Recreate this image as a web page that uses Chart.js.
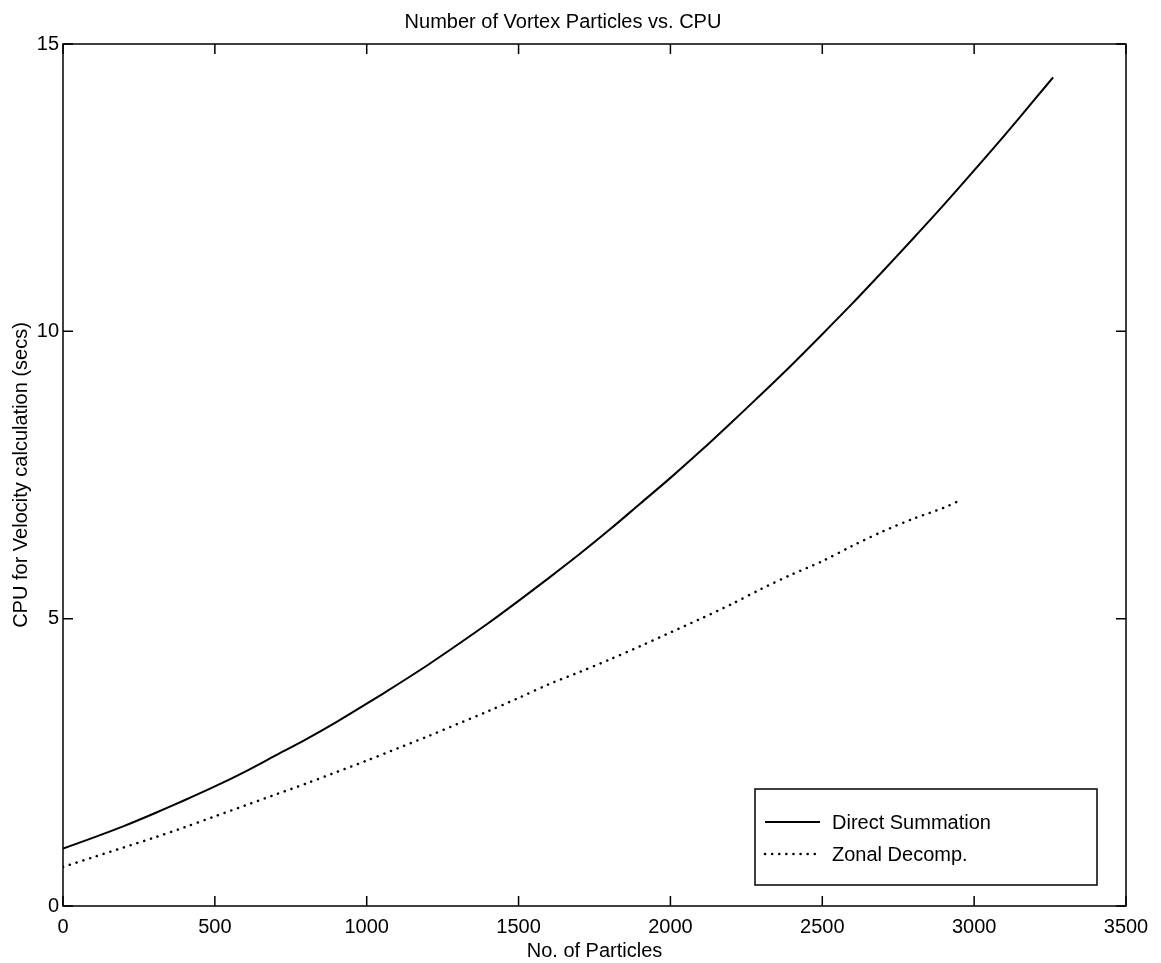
<!DOCTYPE html>
<html>
<head>
<meta charset="utf-8">
<script src="https://cdn.jsdelivr.net/npm/chart.js@4/dist/chart.umd.min.js"></script>
<style>
  html, body { margin: 0; background: #fff; }
  #wrap { width: 1161px; height: 963px; }
</style>
</head>
<body>
<div id="wrap"><canvas id="chart"></canvas></div>
<script>
/* Number of Vortex Particles vs. CPU. */

const PARTICLES_DIRECT = [0, 100, 200, 300, 400, 500, 600, 700, 800, 900, 1000, 1100, 1200, 1300, 1400,
  1500, 1600, 1700, 1800, 1900, 2000, 2100, 2200, 2300, 2400, 2500, 2600, 2700, 2800, 2900, 3000,
  3100, 3200, 3260];
const CPU_DIRECT = [1.00, 1.19, 1.39, 1.61, 1.84, 2.08, 2.34, 2.62, 2.90, 3.20, 3.52, 3.85, 4.19, 4.55, 4.92,
  5.31, 5.71, 6.12, 6.55, 7.00, 7.45, 7.92, 8.41, 8.91, 9.42, 9.95, 10.49, 11.05, 11.62, 12.20, 12.80,
  13.41, 14.04, 14.42];

const PARTICLES_ZONAL = [0, 100, 200, 300, 400, 500, 600, 700, 800, 900, 1000, 1100, 1200, 1300, 1400,
  1500, 1600, 1700, 1800, 1900, 2000, 2100, 2200, 2300, 2400, 2500, 2600, 2700, 2800, 2900, 2950];
const CPU_ZONAL = [0.68, 0.85, 1.02, 1.19, 1.37, 1.56, 1.75, 1.94, 2.13, 2.33, 2.53, 2.74, 2.95, 3.17, 3.39,
  3.62, 3.86, 4.07, 4.29, 4.52, 4.76, 5.00, 5.25, 5.52, 5.77, 6.00, 6.27, 6.52, 6.74, 6.93, 7.05];

const X_TICKS = [0, 500, 1000, 1500, 2000, 2500, 3000, 3500];
const Y_TICKS = [0, 5, 10, 15];

const FONT = "'Liberation Sans', Arial, Helvetica, sans-serif";
const TICK_LEN = 10;

const toPoints = (xs, ys) => xs.map((x, i) => ({ x, y: ys[i] }));

// MATLAB-style box: closed frame, inward ticks on all sides, boxed legend in the corner
const framePlugin = {
  id: "frame",
  afterDatasetsDraw(chart) {
    const { ctx, chartArea: a, scales: { x, y } } = chart;
    ctx.save();
    ctx.strokeStyle = "#000";
    ctx.lineWidth = 1.5;
    ctx.strokeRect(a.left, a.top, a.right - a.left, a.bottom - a.top);
    ctx.beginPath();
    x.ticks.forEach((t) => {
      const px = x.getPixelForValue(t.value);
      ctx.moveTo(px, a.bottom); ctx.lineTo(px, a.bottom - TICK_LEN);
      ctx.moveTo(px, a.top); ctx.lineTo(px, a.top + TICK_LEN);
    });
    y.ticks.forEach((t) => {
      const py = y.getPixelForValue(t.value);
      ctx.moveTo(a.left, py); ctx.lineTo(a.left + TICK_LEN, py);
      ctx.moveTo(a.right, py); ctx.lineTo(a.right - TICK_LEN, py);
    });
    ctx.stroke();

    // legend box
    const box = { left: a.right - 371, right: a.right - 29, top: a.bottom - 117, bottom: a.bottom - 21 };
    ctx.fillStyle = "#fff";
    ctx.fillRect(box.left, box.top, box.right - box.left, box.bottom - box.top);
    ctx.strokeRect(box.left, box.top, box.right - box.left, box.bottom - box.top);
    ctx.font = `20px ${FONT}`;
    ctx.textBaseline = "middle";
    chart.data.datasets.forEach((ds, i) => {
      const ly = box.top + 33 + i * 32;
      ctx.save();
      ctx.strokeStyle = ds.borderColor;
      ctx.lineWidth = ds.borderWidth;
      ctx.lineCap = ds.borderCapStyle || "butt";
      ctx.setLineDash(ds.borderDash || []);
      ctx.beginPath();
      ctx.moveTo(box.left + 10, ly);
      ctx.lineTo(box.left + 65, ly);
      ctx.stroke();
      ctx.restore();
      ctx.fillStyle = "#000";
      ctx.fillText(ds.label, box.left + 77, ly + 1);
    });
    ctx.restore();
  },
};

new Chart(document.getElementById("chart"), {
  type: "line",
  data: {
    datasets: [
      {
        label: "Direct Summation",
        data: toPoints(PARTICLES_DIRECT, CPU_DIRECT),
        borderColor: "#000",
        borderWidth: 2,
        pointRadius: 0,
        tension: 0.3,
        fill: false,
      },
      {
        label: "Zonal Decomp.",
        data: toPoints(PARTICLES_ZONAL, CPU_ZONAL),
        borderColor: "#000",
        borderWidth: 2.5,
        borderDash: [0.1, 7],
        borderCapStyle: "round",
        pointRadius: 0,
        tension: 0.3,
        fill: false,
      },
    ],
  },
  options: {
    animation: false,
    responsive: true,
    maintainAspectRatio: false,
    layout: { padding: { left: 0, right: 35, top: 0, bottom: 0 } },
    plugins: {
      legend: { display: false },
      tooltip: { enabled: false },
      title: {
        display: true,
        text: "Number of Vortex Particles vs. CPU",
        color: "#000",
        font: { family: FONT, size: 20, weight: "normal" },
        padding: { top: 10, bottom: 10 },
      },
    },
    scales: {
      x: {
        type: "linear",
        min: 0,
        max: 3500,
        afterBuildTicks: (s) => { s.ticks = X_TICKS.map((v) => ({ value: v })); },
        afterFit: (s) => { s.height = 57; },
        grid: { display: false, drawTicks: false },
        border: { display: false },
        ticks: {
          color: "#000",
          font: { family: FONT, size: 20 },
          padding: 9,
          maxRotation: 0,
          callback: (v) => String(v),
        },
        title: {
          display: true,
          text: "No. of Particles",
          color: "#000",
          font: { family: FONT, size: 20 },
          padding: { top: 0, bottom: 0 },
        },
      },
      y: {
        type: "linear",
        min: 0,
        max: 15,
        afterBuildTicks: (s) => { s.ticks = Y_TICKS.map((v) => ({ value: v })); },
        afterFit: (s) => { s.width = 63; },
        grid: { display: false, drawTicks: false },
        border: { display: false },
        ticks: { color: "#000", font: { family: FONT, size: 20 }, padding: 4, callback: (v) => String(v) },
        title: {
          display: true,
          text: "CPU for Velocity calculation (secs)",
          color: "#000",
          font: { family: FONT, size: 20 },
          padding: { top: 9, bottom: 0 },
        },
      },
    },
  },
  plugins: [framePlugin],
});
</script>
</body>
</html>
